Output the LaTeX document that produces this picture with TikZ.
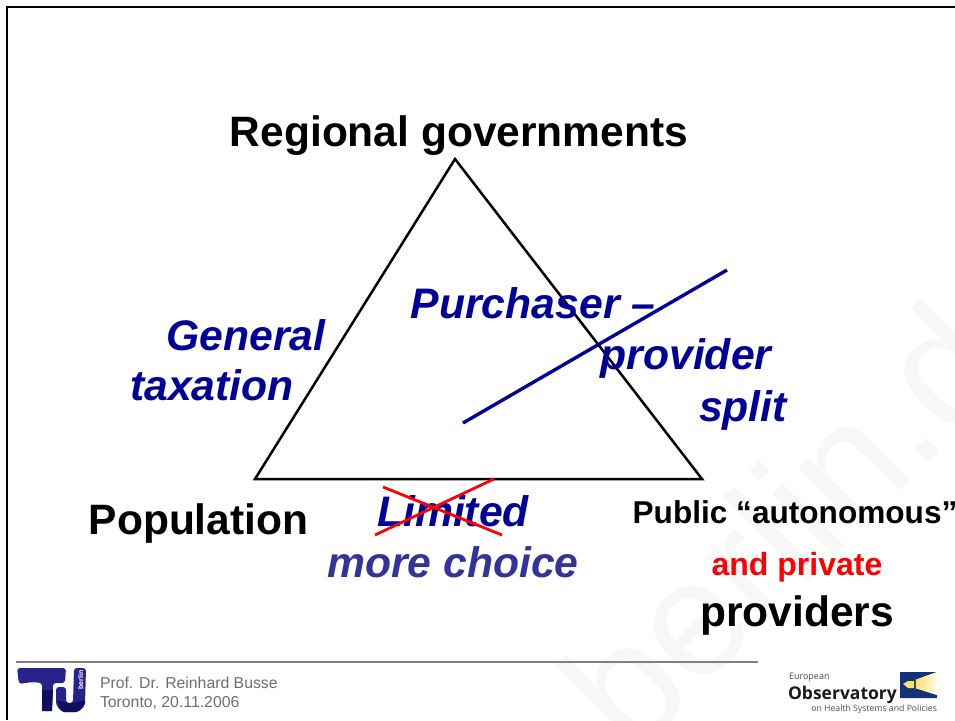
\documentclass[tikz,border=0pt]{standalone}
\usepackage{fontspec}
\setmainfont{Liberation Sans}
\newfontfamily\logofont{Open Sans}
\definecolor{navy}{RGB}{0,0,153}
\definecolor{softblue}{RGB}{51,51,153}
\definecolor{grayline}{RGB}{128,128,128}
\definecolor{footgray}{RGB}{110,110,110}
\definecolor{wm}{RGB}{247,247,247}
\definecolor{tublue}{RGB}{40,35,140}
\definecolor{tudark}{RGB}{15,15,90}
\definecolor{obsblue}{RGB}{20,50,120}
\tikzset{
 lbl/.style={inner sep=0pt,outer sep=0pt,anchor=base},
 blk/.style={lbl,text=black},
 blu/.style={lbl,text=navy},
}
\newcommand{\fs}[1]{\fontsize{#1}{#1}\selectfont}
\begin{document}
\begin{tikzpicture}[x=1pt,y=-1pt]
\useasboundingbox (0,0) rectangle (955,720);
\fill[white] (0,0) rectangle (955,720);
% watermark
\begin{scope}
\clip (0,0) rectangle (955,720);
\node[lbl,anchor=base west,rotate=45,text=wm,font=\fs{165}] (wmark) at (632,758) {berlin.de};
\end{scope}
% frame
\coordinate (ftl) at (7,7); \coordinate (ftr) at (955,7); \coordinate (fbl) at (7,720);
\draw[black,line width=2.4pt] (ftr) -- (ftl) -- (fbl);
% triangle
\coordinate (ta) at (455,159); \coordinate (tb) at (255,479); \coordinate (tc) at (702,479);
\draw[black,line width=2.5pt,line join=miter] (ta) -- (tb) -- (tc) -- cycle;
% blue line
\coordinate (ba) at (463,423); \coordinate (bb) at (727,270);
\draw[navy,line width=3.4pt] (ba) -- (bb);
% labels
\node[blk,font=\bfseries\fs{42.5}] (regional) at (459,146) {Regional governments};
\node[blu,font=\bfseries\itshape\fs{42.7}] (general) at (246,350) {General};
\node[blu,font=\bfseries\itshape\fs{42.7}] (taxation) at (212,400) {taxation};
\node[blu,font=\bfseries\itshape\fs{42.7}] (purchaser) at (533,318) {Purchaser –};
\node[blu,font=\bfseries\itshape\fs{42.7}] (provider) at (686,369) {provider};
\node[blu,font=\bfseries\itshape\fs{42.7}] (split) at (743,421) {split};
\node[blk,font=\bfseries\fs{42.5}] (population) at (198.5,534) {Population};
\node[blu,font=\bfseries\itshape\fs{42.7}] (limited) at (453,526) {Limited};
\node[lbl,text=softblue,font=\bfseries\itshape\fs{42.7}] (choice) at (453,577) {more choice};
\node[blk,font=\bfseries\fs{31.6}] (public) at (795,523) {Public “autonomous”};
\node[lbl,text=red,font=\bfseries\fs{32}] (private) at (797,575) {and private};
\node[blk,font=\bfseries\fs{42.5}] (providers) at (797,626) {providers};
% red cross
\coordinate (r1) at (383,487); \coordinate (r2) at (502,535);
\coordinate (r3) at (375,535); \coordinate (r4) at (494,479);
\draw[red,line width=2.8pt] (r1) -- (r2) (r3) -- (r4);
% footer
\coordinate (fl) at (16,662); \coordinate (fr) at (758,662);
\draw[grayline,line width=1.5pt] (fl) -- (fr);
\node[lbl,anchor=base west,text=footgray,font=\fs{15.8}] (prof) at (100,688) {Prof. Dr. Reinhard Busse};
\node[lbl,anchor=base west,text=footgray,font=\fs{15.8}] (toronto) at (100,707) {Toronto, 20.11.2006};
% TU logo
\fill[tublue,rounded corners=3pt] (17,668) -- (66,668) -- (65,683) -- (53,683) -- (52,711) -- (42,711) -- (42,683) -- (32,682) -- (19,684) -- cycle;
\fill[tudark] (42,690) -- (53,690) -- (52,711) -- (42,711) -- cycle;
\fill[tublue,rounded corners=3pt] (56,687) -- (66,687) -- (66,703) -- (73,703) -- (74,668) -- (86,668) -- (85,705) -- (78,712) -- (62,712) -- (56,705) -- cycle;
\fill[tudark,rounded corners=2pt] (57,700) -- (66,703) -- (73,703) -- (85,700) -- (85,705) -- (78,712) -- (62,712) -- cycle;
\node[lbl,rotate=90,text=white,font=\bfseries\fs{7}] (tub) at (83,680) {berlin};
% Observatory logo
\node[lbl,anchor=base west,text=black!70,font=\logofont\fs{9}] (euro) at (789,679) {European};
\node[lbl,anchor=base west,text=black!90,font=\logofont\bfseries\fs{17.5}] (obs) at (788,699) {Observatory};
\node[lbl,anchor=base east,text=black!70,font=\logofont\fs{8.7}] (onh) at (937,711) {on Health Systems and Policies};
\fill[obsblue] (900,672) -- (937,672) -- (915,680) -- (915,688) -- (937,695) -- (937,698) -- (900,698) -- cycle;
\shade[left color=yellow!55!orange!60,right color=yellow!8!white] (915,680) -- (937,672) -- (937,695) -- (915,688) -- cycle;
\fill[yellow!70!orange!60] (903,684) -- (908,681) -- (914,681) -- (914,688) -- (908,688) -- cycle;
\draw[black!70,line width=0.8pt] (915,680) -- (915,688);
\end{tikzpicture}
\end{document}
